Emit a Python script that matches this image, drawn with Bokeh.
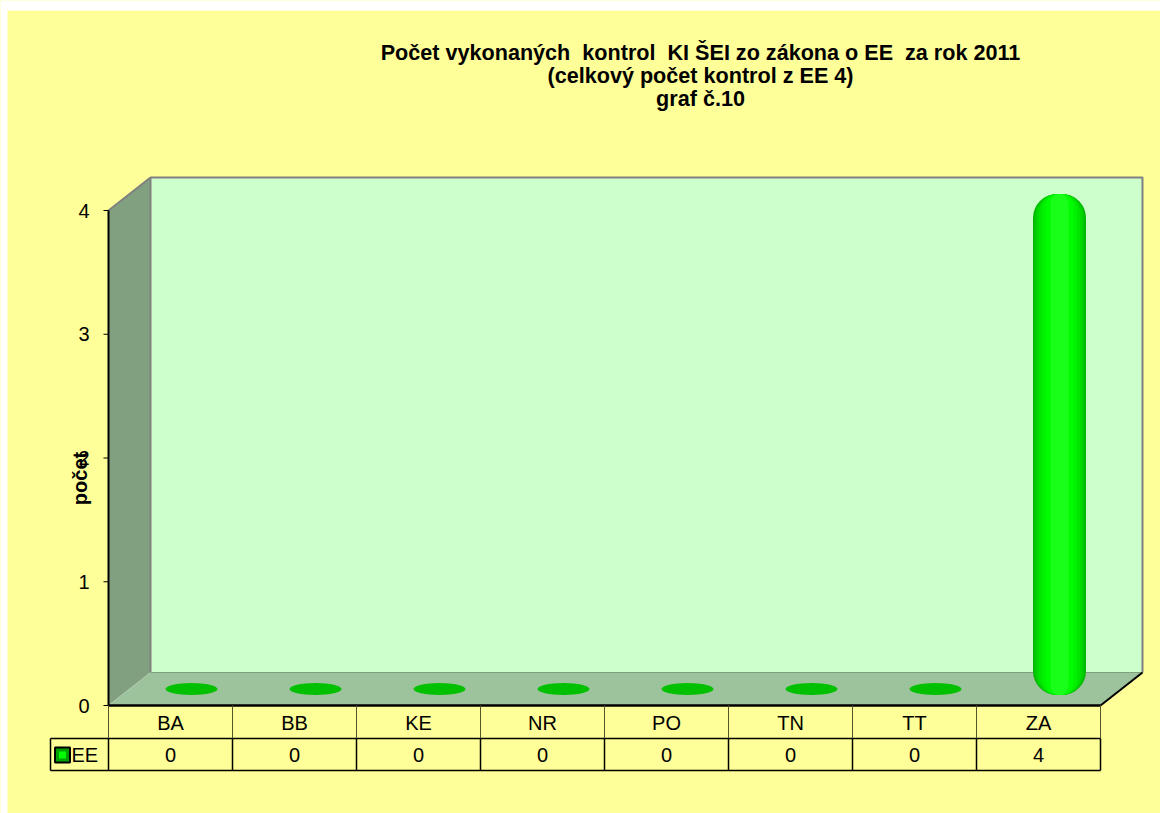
import math
from bokeh.plotting import figure
from bokeh.models import Range1d
from bokeh.core.properties import value
from bokeh.embed import file_html
from bokeh.resources import INLINE

# ---- data ----
categories = ["BA", "BB", "KE", "NR", "PO", "TN", "TT", "ZA"]
counts = [0, 0, 0, 0, 0, 0, 0, 4]
series_name = "EE"
y_ticks = [0, 1, 2, 3, 4]
title_lines = ["Počet vykonaných  kontrol  KI ŠEI zo zákona o EE  za rok 2011",
               "(celkový počet kontrol z EE 4)",
               "graf č.10"]
y_label = "počet"

# ---- layout constants (pixels -> data units) ----
W, H = 1160, 813
PX_X = 124.0      # px per category
PX_Y = 123.75     # px per unit value
OX, OY = 108, 705  # screen position of data origin
DX = 42 / PX_X    # 3D depth offset
DY = 33 / PX_Y
ROW = 33 / PX_Y
FONT = "Liberation Sans"
YELLOW = "#FFFF99"


def sx(px):
    return (px - OX) / PX_X


def sy(py):
    return (OY - py) / PX_Y


n = len(categories)
ymax = max(y_ticks)

p = figure(width=W, height=H, output_backend="svg", toolbar_location=None,
           x_range=Range1d(sx(0), sx(W)), y_range=Range1d(sy(H), sy(0)),
           min_border=0, x_axis_type=None, y_axis_type=None)
p.grid.visible = False
p.outline_line_color = None
p.background_fill_color = YELLOW
p.border_fill_color = YELLOW

# page margin strips (white) as in the reference
p.quad(left=[sx(0), sx(0)], right=[sx(W), sx(7)], bottom=[sy(10), sy(H)], top=[sy(0), sy(0)],
       fill_color="white", line_color=None)

# ---- 3D walls ----
p.patch([DX, n + DX, n + DX, DX], [DY, DY, ymax + DY, ymax + DY],
        fill_color="#CCFFCC", line_color=None)
p.patch([0, DX, DX, 0], [0, DY, ymax + DY, ymax],
        fill_color="#80A080", line_color=None)
p.patch([0, n, n + DX, DX], [0, 0, DY, DY],
        fill_color="#9CC39C", line_color=None)
p.line([DX, DX, n + DX, n + DX], [DY, ymax + DY, ymax + DY, DY], line_color="#808080", line_width=2)
p.line([DX, n + DX], [DY, DY], line_color="#7F9F7F", line_width=1)
p.line([0, DX], [ymax, ymax + DY], line_color="#808080", line_width=2)
p.line([0, DX], [0, DY], line_color="#B0C8B0", line_width=1)
p.line([n, n + DX], [0, DY], line_color="black", line_width=2)

# ---- bars (cylinders) ----
xc = [i + 0.5 + DX / 2 for i in range(n)]
zero_x = [x for x, v in zip(xc, counts) if v == 0]
p.ellipse(x=zero_x, y=[DY / 2] * len(zero_x), width=52 / PX_X, height=12 / PX_Y,
          fill_color="#00C000", line_color=None)
layers = [(53, "#00B400", 24), (50, "#00C800", 23), (46, "#00D800", 21),
          (41, "#00E600", 19), (35, "#00F200", 16), (28, "#00FC00", 13), (18, "#1AFF1A", 9)]
for v, x in zip(counts, xc):
    if v > 0:
        top = v + DY / 2
        for w, c, r in layers:
            p.vbar(x=[x], bottom=[DY / 2 - 6 / PX_Y], top=[top], width=w / PX_X,
                   fill_color=c, line_color=None, border_radius=r)

# ---- y axis ----
p.line([0, 0], [0, ymax], line_color="black", line_width=2)
p.segment(x0=[-5 / PX_X] * len(y_ticks), y0=y_ticks, x1=[0] * len(y_ticks), y1=y_ticks,
          line_color="black", line_width=1)
p.text(x=[sx(89)] * len(y_ticks), y=y_ticks, text=[str(t) for t in y_ticks],
       text_align="right", text_baseline="middle", text_font=value(FONT),
       text_font_size="20px", text_color="black")
p.text(x=[sx(79)], y=[sy(478)], text=[y_label], angle=math.pi / 2,
       text_align="center", text_baseline="middle", text_font=value(FONT),
       text_font_size="20px", text_font_style="bold", text_color="black")

# ---- data table ----
legend_left = sx(50)
p.line([0, n], [0, 0], line_color="black", line_width=2.5)
p.line([legend_left, n], [-ROW, -ROW], line_color="black", line_width=1.5)
p.line([legend_left, n], [-2 * ROW + 1 / PX_Y, -2 * ROW + 1 / PX_Y], line_color="black", line_width=1.5)
p.segment(x0=list(range(n + 1)), y0=[0] * (n + 1), x1=list(range(n + 1)), y1=[-ROW] * (n + 1),
          line_color="#55552A", line_width=1)
p.segment(x0=list(range(n + 1)) + [legend_left], y0=[-ROW] * (n + 2),
          x1=list(range(n + 1)) + [legend_left], y1=[-2 * ROW + 1 / PX_Y] * (n + 2),
          line_color="black", line_width=1.5)
p.text(x=[i + 0.5 for i in range(n)], y=[-ROW / 2 - 1 / PX_Y] * n, text=categories,
       text_align="center", text_baseline="middle", text_font=value(FONT),
       text_font_size="20px", text_color="black")
p.text(x=[i + 0.5 for i in range(n)], y=[-1.5 * ROW] * n, text=[str(v) for v in counts],
       text_align="center", text_baseline="middle", text_font=value(FONT),
       text_font_size="20px", text_color="black")
# legend key
p.scatter(x=[sx(62)], y=[-1.5 * ROW], marker="square", size=15,
          fill_color="#00A000", line_color="black", line_width=2)
p.scatter(x=[sx(62)], y=[-1.5 * ROW], marker="square", size=7,
          fill_color="#00FF00", line_color=None)
p.text(x=[sx(71)], y=[-1.5 * ROW], text=[series_name],
       text_align="left", text_baseline="middle", text_font=value(FONT),
       text_font_size="20px", text_color="black")

# ---- title ----
shown = [t.replace("  ", " \u00a0") for t in title_lines]
p.text(x=[sx(700)] * 3, y=[sy(52), sy(75), sy(98)], text=shown,
       text_align="center", text_baseline="alphabetic", text_font=value(FONT),
       text_font_size="21.6px", text_font_style="bold", text_color="black")

open("out.html", "w").write(file_html(p, INLINE))
